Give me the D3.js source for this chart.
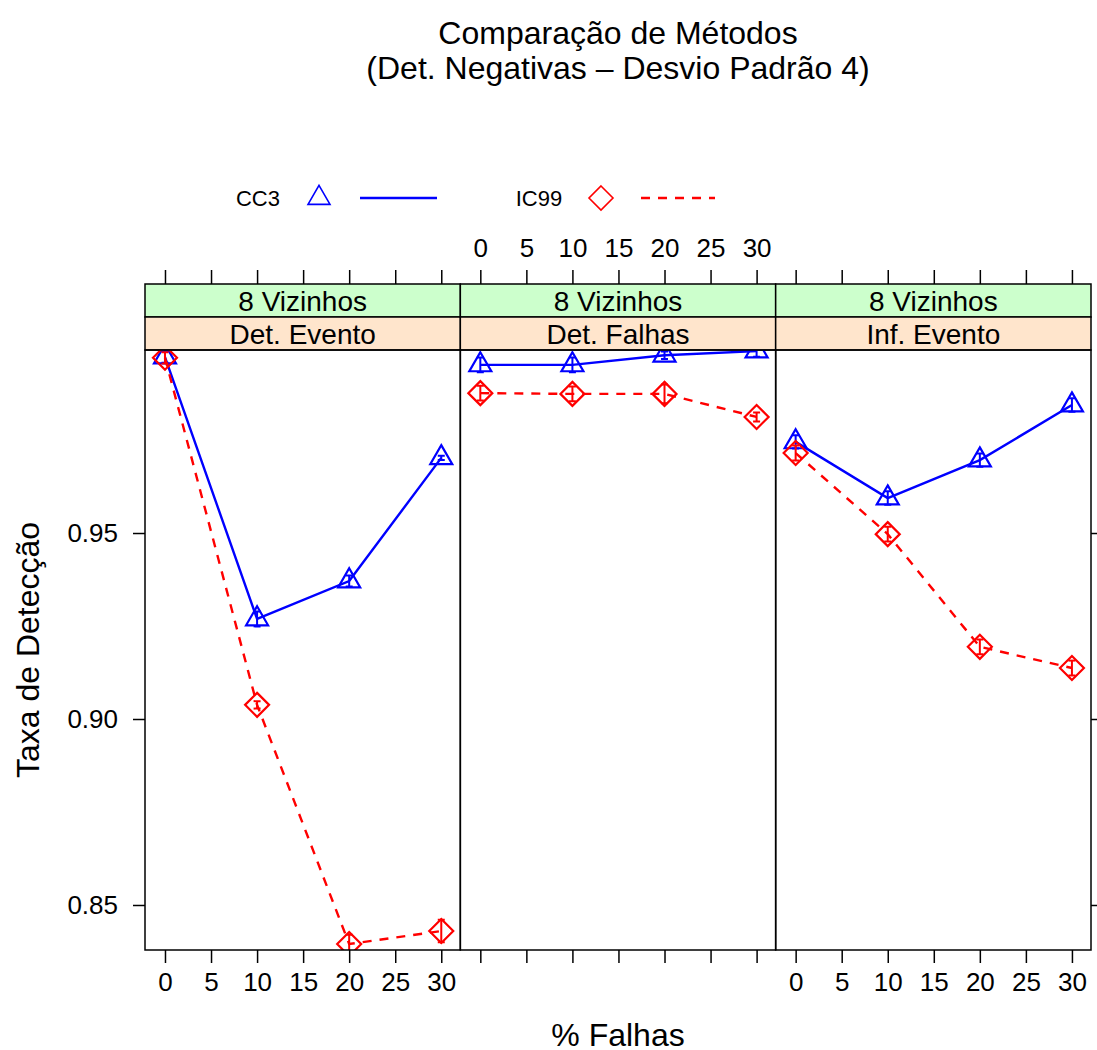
<!DOCTYPE html>
<html>
  <head>
    <style>
      body { margin: 0; background: #fff; }
      text { font-family: "Liberation Sans", Arial, sans-serif; fill: #000; }
    </style>
  </head>
  <body>
    <script src="https://d3js.org/d3.v7.min.js"></script>
    <div id="chart"></div>
    <script>
      // Data
      var panels = ["Det. Evento", "Det. Falhas", "Inf. Evento"];
      var outerStrip = "8 Vizinhos";
      var falhas = [0, 10, 20, 30];
      var xTicks = [0, 5, 10, 15, 20, 25, 30];
      var yTicks = [0.85, 0.90, 0.95];

      // mean detection rate per panel, one array per method
      var cc3 = [
        [0.9973, 0.9269, 0.9371, 0.9702],
        [0.9952, 0.9952, 0.9978, 0.9989],
        [0.9745, 0.9594, 0.9696, 0.9844]
      ];
      var ic99 = [
        [0.9971, 0.9038, 0.8395, 0.8430],
        [0.9876, 0.9874, 0.9874, 0.9812],
        [0.9715, 0.9497, 0.9194, 0.9137]
      ];
      // half-width of the error bars
      var cc3Err = [
        [0.0015, 0.0020, 0.0015, 0.0006],
        [0.0020, 0.0020, 0.0010, 0.0015],
        [0.0018, 0.0018, 0.0018, 0.0018]
      ];
      var ic99Err = [
        [0.0015, 0.0010, 0.0025, 0.0030],
        [0.0020, 0.0020, 0.0025, 0.0012],
        [0.0020, 0.0020, 0.0020, 0.0020]
      ];

      var series = [
        {name: "CC3", values: cc3, err: cc3Err, color: "#0000ff", dash: null, pch: "tri"},
        {name: "IC99", values: ic99, err: ic99Err, color: "#ff0000", dash: "9,8", pch: "dia"}
      ];

      var W = 1097, H = 1050;
      var pLeft = 145, pRight = 1091, pTop = 350, pBottom = 950;
      var stripH = 33;
      var panelW = (pRight - pLeft) / panels.length;

      var svg = d3.select("#chart").append("svg")
          .attr("width", W).attr("height", H);

      var y = d3.scaleLinear().domain([0.8379, 0.9992]).range([pBottom, pTop]);

      function symbol(type) {
        if (type === "tri") {
          var xc = 11, r = 12.7, yc = 6.35;
          return "M0," + (-r) + "L" + xc + "," + yc + "L" + (-xc) + "," + yc + "Z";
        }
        var d = 12;
        return "M0," + (-d) + "L" + d + ",0L0," + d + "L" + (-d) + ",0Z";
      }

      // Title
      svg.append("text").attr("x", 618).attr("y", 44)
          .attr("text-anchor", "middle").style("font-size", "32px")
          .text("Comparação de Métodos");
      svg.append("text").attr("x", 618).attr("y", 79)
          .attr("text-anchor", "middle").style("font-size", "32px")
          .text("(Det. Negativas \u2013 Desvio Padrão 4)");

      // Legend
      var legend = [
        {s: series[0], tx: 258, px: 319, lx: [360, 437]},
        {s: series[1], tx: 539, px: 601, lx: [641, 715]}
      ];
      legend.forEach(function(l) {
        svg.append("text").attr("x", l.tx).attr("y", 206)
            .attr("text-anchor", "middle").style("font-size", "22px")
            .text(l.s.name);
        svg.append("path").attr("d", symbol(l.s.pch))
            .attr("transform", "translate(" + l.px + ",198)")
            .attr("fill", "none").attr("stroke", l.s.color).attr("stroke-width", 1.6);
        svg.append("line").attr("x1", l.lx[0]).attr("x2", l.lx[1])
            .attr("y1", 198).attr("y2", 198)
            .attr("stroke", l.s.color).attr("stroke-width", 2.4)
            .attr("stroke-dasharray", l.s.dash);
      });

      panels.forEach(function(name, i) {
        var x0 = pLeft + i * panelW, x1 = x0 + panelW;
        var x = d3.scaleLinear().domain([-2.17, 32.07]).range([x0, x1]);
        var g = svg.append("g");

        // strips
        g.append("rect").attr("x", x0).attr("y", pTop - 2 * stripH)
            .attr("width", panelW).attr("height", stripH)
            .attr("fill", "#ccffcc").attr("stroke", "#000").attr("stroke-width", 1.5);
        g.append("rect").attr("x", x0).attr("y", pTop - stripH)
            .attr("width", panelW).attr("height", stripH)
            .attr("fill", "#ffe5cc").attr("stroke", "#000").attr("stroke-width", 1.5);
        g.append("text").attr("x", (x0 + x1) / 2).attr("y", pTop - stripH - 6)
            .attr("text-anchor", "middle").style("font-size", "28px")
            .text(outerStrip);
        g.append("text").attr("x", (x0 + x1) / 2).attr("y", pTop - 6)
            .attr("text-anchor", "middle").style("font-size", "28px")
            .text(name);

        // x axes: bottom on every panel, labels on 1 and 3; top labels on 2
        var bAxis = d3.axisBottom(x).tickValues(xTicks).tickSize(13).tickPadding(10)
            .tickFormat(i === 1 ? "" : d3.format("d"));
        var ba = g.append("g").attr("transform", "translate(0," + pBottom + ")").call(bAxis);
        var tAxis = d3.axisTop(x).tickValues(xTicks).tickSize(14).tickPadding(13)
            .tickFormat(i === 1 ? d3.format("d") : "");
        var ta = g.append("g").attr("transform", "translate(0," + (pTop - 2 * stripH) + ")").call(tAxis);
        [ba, ta].forEach(function(a) {
          a.select(".domain").remove();
          a.selectAll(".tick line").attr("stroke", "#000").attr("stroke-width", 1.5);
          a.selectAll(".tick text").style("font-size", "26px")
              .style("font-family", "Liberation Sans, Arial, sans-serif");
        });

        // y axis
        if (i === 0) {
          var la = g.append("g").attr("transform", "translate(" + x0 + ",0)")
              .call(d3.axisLeft(y).tickValues(yTicks).tickSize(12).tickPadding(15)
                .tickFormat(d3.format(".2f")));
          la.select(".domain").remove();
          la.selectAll(".tick line").attr("stroke", "#000").attr("stroke-width", 1.5);
          la.selectAll(".tick text").style("font-size", "26px")
              .style("font-family", "Liberation Sans, Arial, sans-serif");
        }
        if (i === panels.length - 1) {
          var ra = g.append("g").attr("transform", "translate(" + x1 + ",0)")
              .call(d3.axisRight(y).tickValues(yTicks).tickSize(12).tickFormat(""));
          ra.select(".domain").remove();
          ra.selectAll(".tick line").attr("stroke", "#000").attr("stroke-width", 1.5);
        }

        // data
        var clip = "clip" + i;
        g.append("clipPath").attr("id", clip).append("rect")
            .attr("x", x0).attr("y", pTop).attr("width", panelW).attr("height", pBottom - pTop);
        var pg = g.append("g").attr("clip-path", "url(#" + clip + ")");

        series.forEach(function(s) {
          var pts = falhas.map(function(f, k) {
            return {x: f, y: s.values[i][k], e: s.err[i][k]};
          });
          pg.append("path").datum(pts)
              .attr("d", d3.line().x(function(d) { return x(d.x); }).y(function(d) { return y(d.y); }))
              .attr("fill", "none").attr("stroke", s.color).attr("stroke-width", 2.4)
              .attr("stroke-dasharray", s.dash);
          pg.selectAll(null).data(pts).enter().append("path")
              .attr("d", symbol(s.pch))
              .attr("transform", function(d) { return "translate(" + x(d.x) + "," + y(d.y) + ")"; })
              .attr("fill", "none").attr("stroke", s.color).attr("stroke-width", 2.2);
          var eb = pg.selectAll(null).data(pts).enter().append("g")
              .attr("stroke", s.color).attr("stroke-width", 2);
          eb.append("line")
              .attr("x1", function(d) { return x(d.x); }).attr("x2", function(d) { return x(d.x); })
              .attr("y1", function(d) { return y(d.y - d.e); }).attr("y2", function(d) { return y(d.y + d.e); });
          [-1, 1].forEach(function(sign) {
            eb.append("line")
                .attr("x1", function(d) { return x(d.x) - 3.5; }).attr("x2", function(d) { return x(d.x) + 3.5; })
                .attr("y1", function(d) { return y(d.y + sign * d.e); })
                .attr("y2", function(d) { return y(d.y + sign * d.e); });
          });
        });

        // panel border
        g.append("rect").attr("x", x0).attr("y", pTop)
            .attr("width", panelW).attr("height", pBottom - pTop)
            .attr("fill", "none").attr("stroke", "#000").attr("stroke-width", 1.5);
      });

      // Axis labels
      svg.append("text").attr("x", (pLeft + pRight) / 2).attr("y", 1046)
          .attr("text-anchor", "middle").style("font-size", "32px")
          .text("% Falhas");
      svg.append("text")
          .attr("transform", "translate(39," + ((pTop + pBottom) / 2) + ") rotate(-90)")
          .attr("text-anchor", "middle").style("font-size", "32px")
          .text("Taxa de Detecção");
    </script>
  </body>
</html>
